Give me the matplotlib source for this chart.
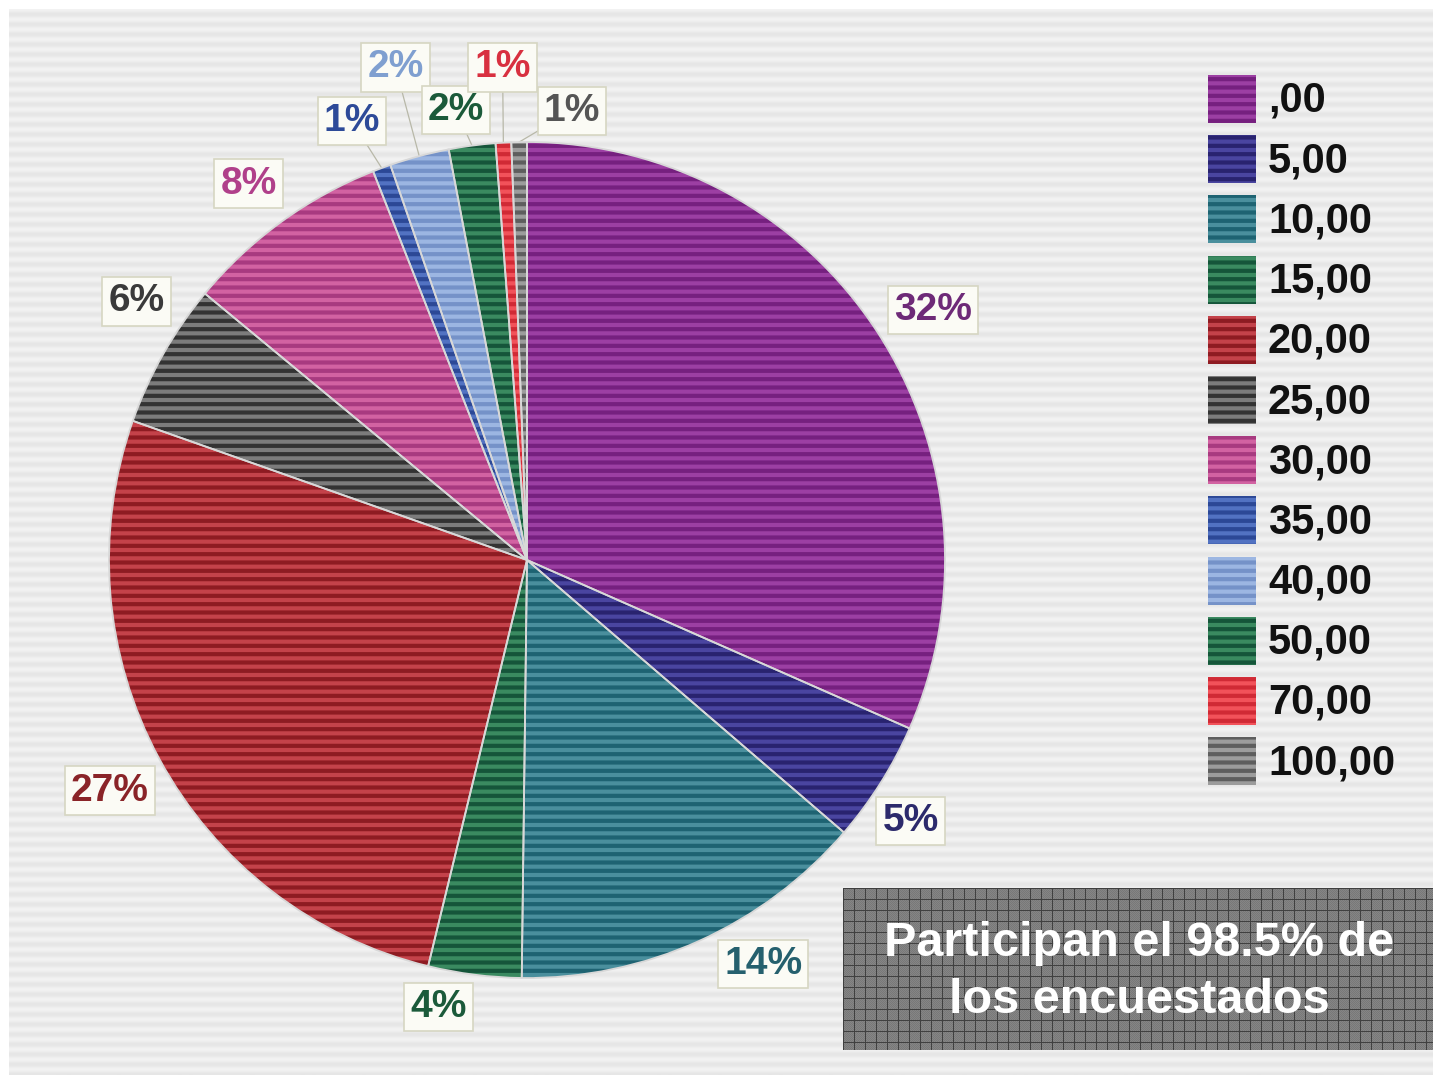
import numpy as np
import matplotlib
matplotlib.use("Agg")
import matplotlib.pyplot as plt
from matplotlib import font_manager
from matplotlib.patches import Rectangle, Wedge

# ---- data -------------------------------------------------------------
categories = [",00", "5,00", "10,00", "15,00", "20,00", "25,00",
              "30,00", "35,00", "40,00", "50,00", "70,00", "100,00"]
shares = [31.6, 4.7, 13.9, 3.6, 26.6, 5.6, 8.0, 0.7, 2.3, 1.8, 0.6, 0.6]
note = "Participan el 98.5% de\nlos encuestados"

# ---- style ------------------------------------------------------------
light = ["#9c3fa3", "#4a45a0", "#4a8f9d", "#3a8a60", "#c4424a", "#7c7c7c",
         "#d262a2", "#5272c2", "#9cb6e2", "#3a8a60", "#f2525a", "#9c9c9c"]
dark = ["#76207f", "#29236f", "#1e6372", "#15553a", "#8e1b22", "#333333",
        "#a83a80", "#2c4896", "#7592c8", "#15553a", "#d02a35", "#5e5e5e"]
label_color = ["#6e2a78", "#2c2a6c", "#25606e", "#1b5a3a", "#8a2428", "#3a3a3a",
               "#b0408a", "#2d4a98", "#7f9fd0", "#1b5a3a", "#d83040", "#555555"]
# radial distance (in radii) and angular nudge (deg) of each percentage label
label_r = [1.14, 1.11, 1.12, 1.09, 1.14, 1.12, 1.12, 1.13, 1.22, 1.09, 1.18, 1.08]
label_da = [-1.5, -2, 6, -4, 0.5, -4, 0.5, 1.4, 0, 1.4, -0.4, -6.8]

names = {f.name for f in font_manager.fontManager.ttflist}
narrow = "Liberation Sans Narrow" in names
label_font = "Liberation Sans Narrow" if narrow else "Liberation Sans"
label_size = 31 if narrow else 28
legend_size = 36 if narrow else 30

W, H = 1433, 1075
fig = plt.figure(figsize=(W / 100, H / 100), dpi=100)
fig.patch.set_facecolor("white")
ax = fig.add_axes([0, 0, 1, 1])

# striped backdrop
rows = np.arange(H - 9)
band = 0.5 + 0.5 * np.cos(2 * np.pi * rows / 10.0)
bg = 0.900 + 0.050 * band
ax.imshow(np.repeat(bg[:, None], 4, axis=1), cmap="gray", vmin=0, vmax=1,
          extent=(9, W, 0, H - 9), aspect="auto", interpolation="bilinear",
          zorder=0)

# ---- pie --------------------------------------------------------------
plt.rcParams["hatch.linewidth"] = 3.0
cx, cy, R = 527, 515, 418
wedges, _ = ax.pie(shares, colors=light, startangle=90, counterclock=False,
                   center=(cx, cy), radius=R, wedgeprops=dict(linewidth=0))
total = sum(shares)
for i, w in enumerate(wedges):
    w.set_edgecolor(dark[i])
    w.set_hatch("--")
    w.set_linewidth(0)
    w.set_zorder(2)
    ax.add_patch(Wedge(w.center, w.r, w.theta1, w.theta2, fill=False,
                       edgecolor="#d8d8d8", linewidth=1.3, zorder=3))

    pct = shares[i] / total * 100
    mid = np.deg2rad((w.theta1 + w.theta2) / 2 + label_da[i])
    lx = cx + label_r[i] * R * np.cos(mid)
    ly = cy + label_r[i] * R * np.sin(mid)
    if shares[i] < 3:
        m0 = np.deg2rad((w.theta1 + w.theta2) / 2)
        ax.plot([cx + R * np.cos(m0), lx], [cy + R * np.sin(m0), ly],
                color="#b8b8a8", linewidth=0.9, zorder=1)
    ax.text(lx, ly, f"{pct:.0f}%", ha="center", va="center",
            fontsize=label_size, family=label_font, fontweight="bold",
            color=label_color[i], zorder=5,
            bbox=dict(boxstyle="square,pad=0.16", fc="#fbfbf5",
                      ec="#d6d6c2", lw=1.2))

# ---- legend -----------------------------------------------------------
for i, cat in enumerate(categories):
    top = H - 75 - i * 60.2
    ax.add_patch(Rectangle((1208, top - 48), 48, 48, facecolor=light[i],
                           edgecolor=dark[i], hatch="--", linewidth=0,
                           zorder=2))
    ax.text(1268, top - 26, cat, ha="left", va="center", fontsize=legend_size,
            family=label_font, fontweight="bold", color="#111111", zorder=3)

# ---- note box ---------------------------------------------------------
bx0, bx1, by0, by1 = 843, W, 25, 187
gh, gw = by1 - by0, bx1 - bx0
yy, xx = np.mgrid[0:gh, 0:gw]
grid = np.full((gh, gw), 0.47)
grid[(yy % 11 == 0) | (xx % 11 == 0)] = 0.25
grid[((yy + xx) % 2 == 0) & (grid > 0.3)] = 0.52
ax.imshow(grid, cmap="gray", vmin=0, vmax=1, extent=(bx0, bx1, by0, by1),
          aspect="auto", interpolation="nearest", zorder=4)
ax.text((888 + 1390) / 2, 103, note, ha="center", va="center", fontsize=35,
        family="Liberation Sans", fontweight="bold", color="white",
        linespacing=1.32, zorder=6)

ax.set_xlim(0, W)
ax.set_ylim(0, H)
ax.set_aspect("auto")
ax.axis("off")
fig.savefig("out.png", dpi=100)
